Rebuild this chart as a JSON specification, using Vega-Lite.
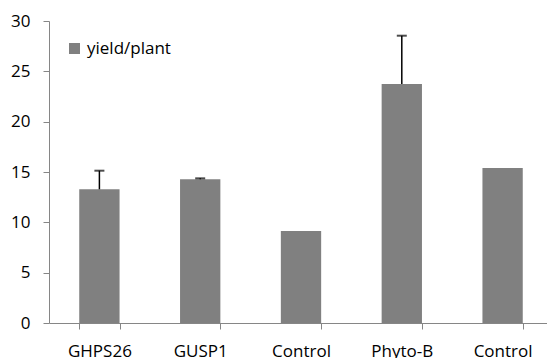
{
  "$schema": "https://vega.github.io/schema/vega-lite/v6.json",
  "autosize": {"type": "none"},
  "width": 498,
  "height": 302,
  "padding": {"left": 49, "top": 21, "right": 0, "bottom": 35},
  "background": "white",
  "config": {
    "view": {"stroke": null},
    "font": "Open Sans",
    "axis": {"labelFont": "Open Sans", "labelFontSize": 17, "labelColor": "#000000", "domainColor": "#868686", "tickColor": "#868686", "grid": false, "title": null}
  },
  "data": {
    "values": [
      {"id": "a", "label": "GHPS26", "yield": 13.28, "err": 15.13, "series": "yield/plant"},
      {"id": "b", "label": "GUSP1", "yield": 14.27, "err": 14.37, "series": "yield/plant"},
      {"id": "c", "label": "Control", "yield": 9.14, "err": null, "series": "yield/plant"},
      {"id": "d", "label": "Phyto-B", "yield": 23.74, "err": 28.54, "series": "yield/plant"},
      {"id": "e", "label": "Control", "yield": 15.4, "err": null, "series": "yield/plant"}
    ]
  },
  "encoding": {
    "x": {
      "field": "id", "type": "nominal", "sort": null,
      "scale": {"paddingInner": 0.6, "paddingOuter": 0.3, "range": [0, 504]},
      "axis": {
        "labelExpr": "datum.value == 'a' ? 'GHPS26' : datum.value == 'b' ? 'GUSP1' : datum.value == 'd' ? 'Phyto-B' : (datum.value == 'c' || datum.value == 'e') ? 'Control' : ''",
        "labelAngle": 0, "tickBand": "extent", "tickSize": 6, "labelPadding": 14
      }
    }
  },
  "layer": [
    {
      "mark": {"type": "bar", "color": "#808080"},
      "encoding": {
        "y": {"field": "yield", "type": "quantitative", "scale": {"domain": [0, 30], "nice": false},
              "axis": {"values": [0, 5, 10, 15, 20, 25, 30], "tickSize": 6, "labelPadding": 13}},
        "color": {"field": "series", "type": "nominal", "scale": {"range": ["#808080"]},
                  "legend": {"orient": "none", "legendX": 17, "legendY": 19, "title": null, "symbolType": "square", "symbolSize": 121, "symbolStrokeWidth": 0, "labelFontSize": 17, "labelFont": "Open Sans", "labelColor": "#000000", "labelOffset": 4}}
      }
    },
    {
      "transform": [{"filter": "datum.err != null"}],
      "mark": {"type": "rule", "color": "#000000", "strokeWidth": 1.5},
      "encoding": {"y": {"field": "yield", "type": "quantitative"}, "y2": {"field": "err"}}
    },
    {
      "transform": [{"filter": "datum.err != null"}],
      "mark": {"type": "tick", "color": "#000000", "thickness": 2, "size": 10, "orient": "horizontal"},
      "encoding": {"y": {"field": "err", "type": "quantitative"}}
    }
  ]
}
